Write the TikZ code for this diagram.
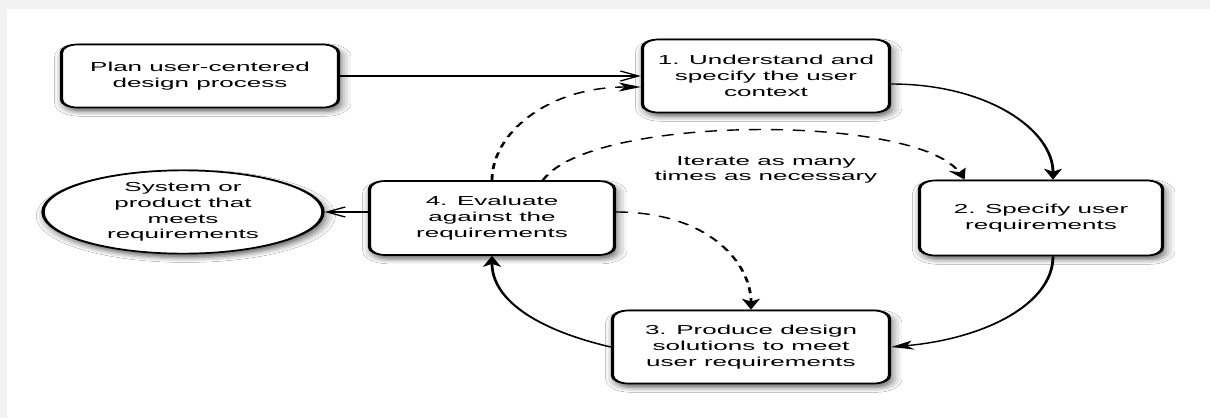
\documentclass[tikz,border=0pt]{standalone}
\usepackage{fontspec}
\setmainfont{Liberation Sans}
\usetikzlibrary{arrows.meta, positioning, shapes.geometric, shadows.blur}

\begin{document}
\begin{tikzpicture}[x=.5pt, y=-.5pt,
	stepbox/.style={draw, line width=.85pt, rounded corners=4pt, fill=white, align=center, inner sep=0pt, font=\fontsize{6.5pt}{7.85pt}\selectfont, blur shadow={shadow xshift=.7pt, shadow yshift=-2pt, shadow blur radius=2.4pt, shadow opacity=60}},
	goalbox/.style={stepbox, ellipse, rounded corners=0pt},
	flow/.style={line width=.7pt, -{Stealth[length=5.5pt, width=4.5pt, inset=1.5pt]}},
	loopback/.style={flow, dash pattern=on 3pt off 2.5pt},
	feed/.style={line width=.6pt, -{Straight Barb[length=4.5pt, width=5pt]}}]
	\fill[gray!10] (0,0) rectangle (1210,418);
	\fill[white] (7,9) rectangle (1210,418);
	\useasboundingbox (0,0) rectangle (1210,418);
	\begin{scope}[transform canvas={xscale=2}, x=.25pt]
	\node[stepbox, minimum width=69.25pt, minimum height=31.5pt] (plan) at (200,76) {Plan user-centered\\design process};
	\node[stepbox, minimum width=61.75pt, minimum height=36.5pt] (u1) at (766,76) {1. Understand and\\specify the user\\context};
	\node[stepbox, minimum width=60.75pt, minimum height=37.5pt] (s2) at (1041,218) {2. Specify user\\requirements};
	\node[stepbox, minimum width=69.25pt, minimum height=36.5pt] (p3) at (751,347) {3. Produce design\\solutions to meet\\user requirements};
	\node[stepbox, minimum width=61.25pt, minimum height=37pt] (e4) at (492,218) {4. Evaluate\\against the\\requirements};
	\node[goalbox, minimum width=70pt, minimum height=37.5pt] (sys) at (183,212) {System or\\product that\\meets\\requirements};
	\node[align=center, inner sep=0pt, font=\fontsize{6.5pt}{7.85pt}\selectfont] (iter) at (766,170) {Iterate as many\\times as necessary};

	\draw[feed] (plan) -- (u1);
	\draw[feed] (e4.west |- sys) -- (sys);
	\draw[flow] ([yshift=-4pt]u1.east) to[out=0, in=90] ([xshift=3pt]s2.north);
	\draw[flow] ([xshift=3pt]s2.south) to[out=-90, in=10] (p3.east);
	\draw[flow] (p3.west) to[out=155, in=-90] (e4.south);
	\draw[loopback] (e4.north) to[out=90, in=180] ([yshift=-5.5pt]u1.west);
	\draw[loopback] ([xshift=12.75pt]e4.north) to[out=70, in=110, looseness=.85] ([xshift=-19.1pt]s2.north);
	\draw[loopback] ([yshift=3pt]e4.east) to[out=0, in=90] (p3.north);
	\end{scope}
\end{tikzpicture}
\end{document}
